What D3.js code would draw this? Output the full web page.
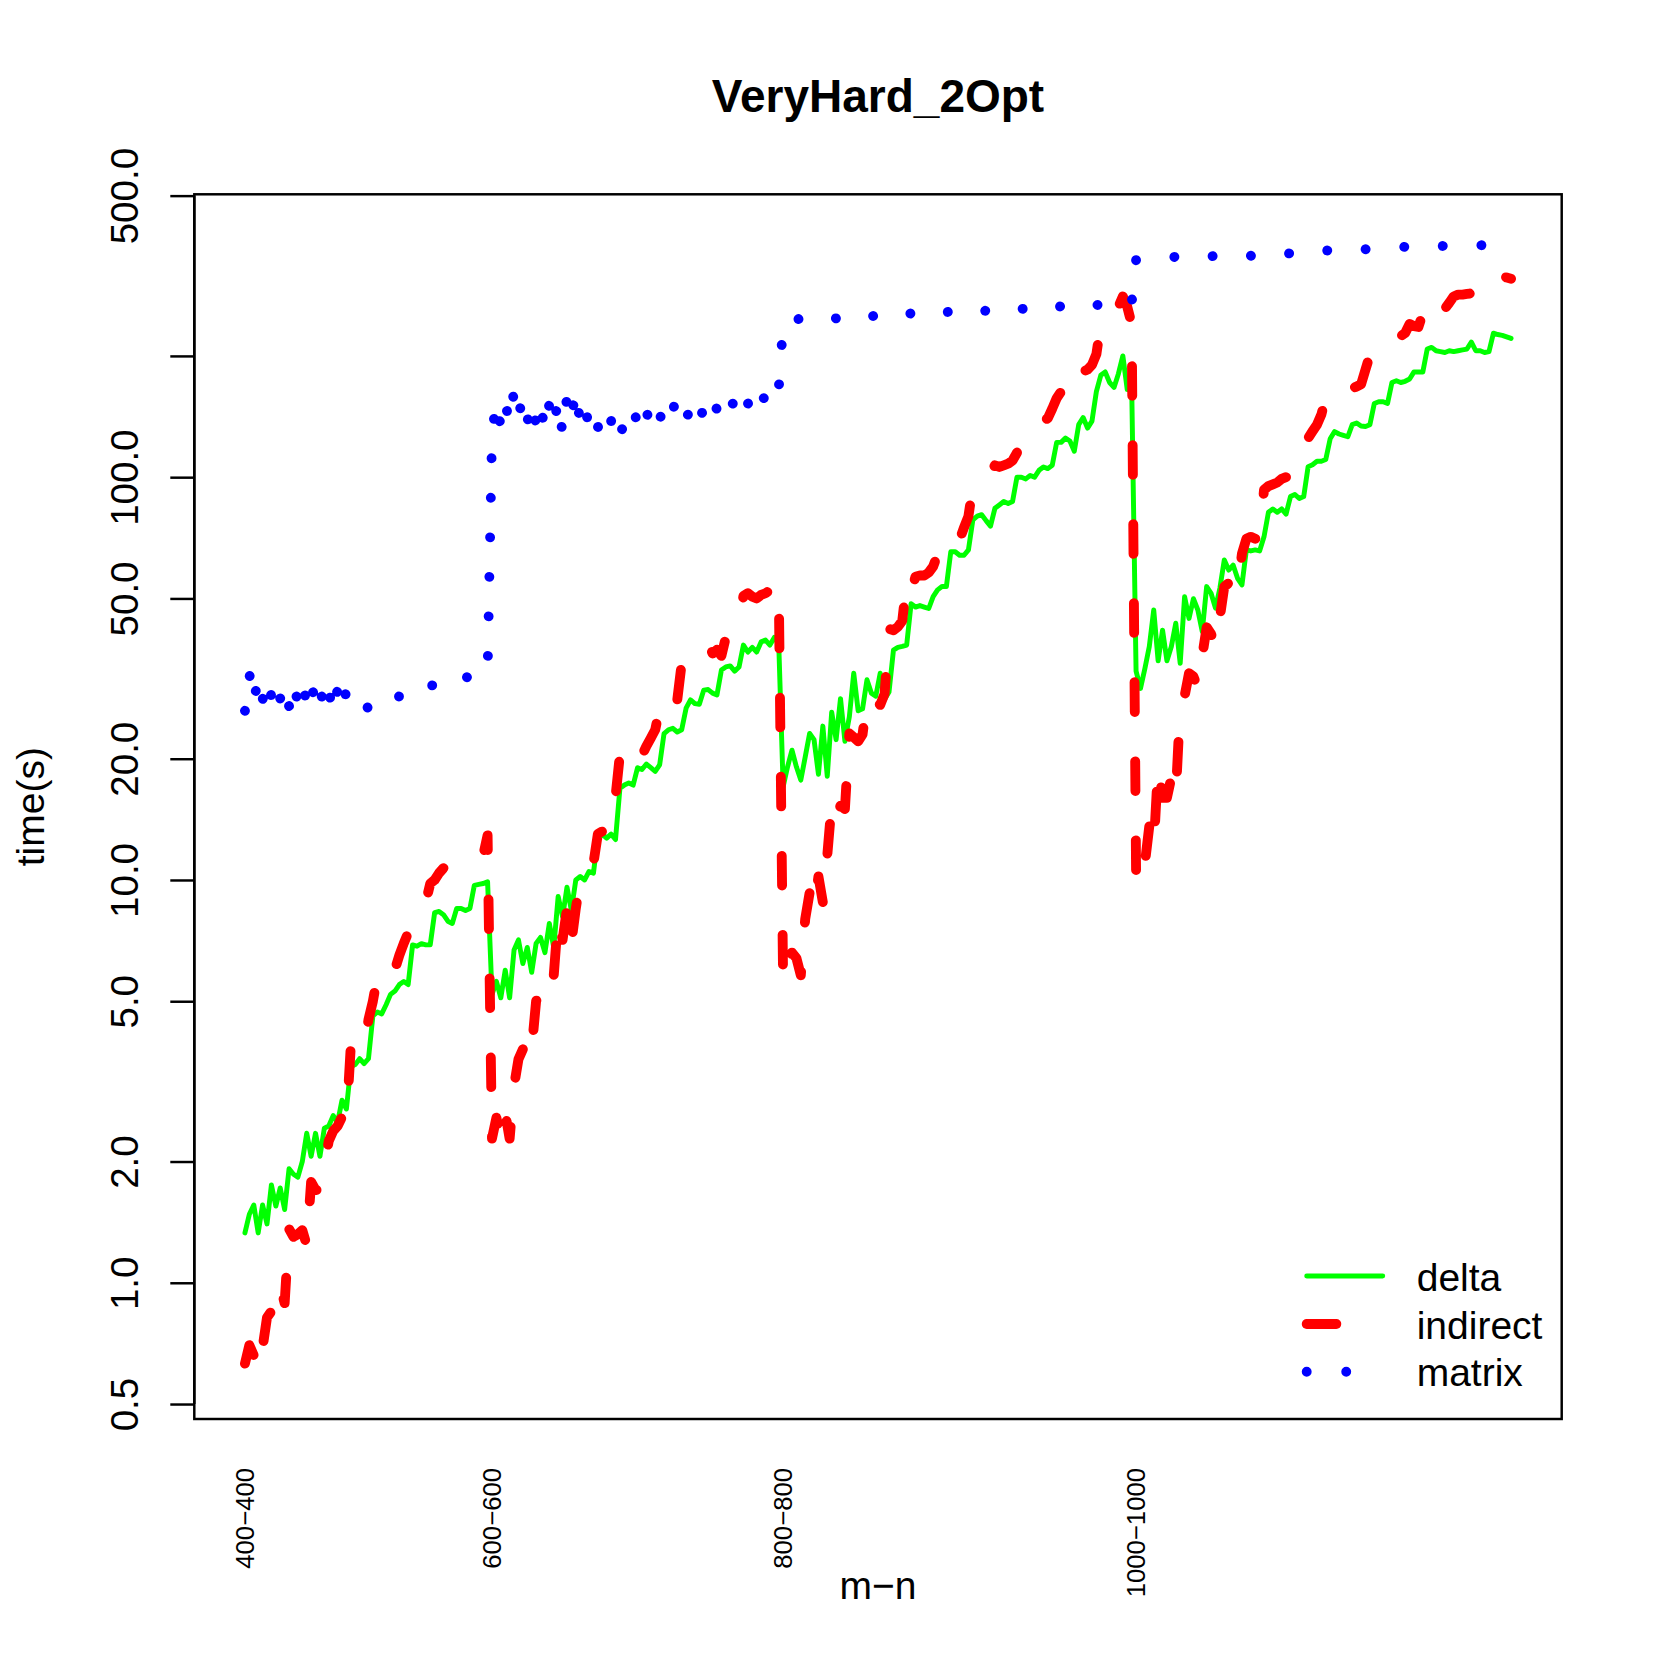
<!DOCTYPE html>
<html><head><meta charset="utf-8">
<script src="https://cdn.jsdelivr.net/npm/d3@7"></script>
<style>body{margin:0;background:#fff}svg{display:block}</style>
</head><body><svg id="c" width="1661" height="1661"></svg>
<script>
// ---- data ----
const title = "VeryHard_2Opt";
const xAxisTitle = "m\u2212n";
const yAxisTitle = "time(s)";
const xLabels = ["400\u2212400", "600\u2212600", "800\u2212800", "1000\u22121000"];
const xLabelIndex = [1, 57, 123, 203];
const yTicks = [500, 200, 100, 50, 20, 10, 5, 2, 1, 0.5];
const yTickLabels = ["500.0", "", "100.0", "50.0", "20.0", "10.0", "5.0", "2.0", "1.0", "0.5"];
const seriesNames = ["delta", "indirect", "matrix"];

const delta = [
 1.33,1.48,1.56,1.33,1.56,1.40,1.75,1.55,1.72,1.52,
 1.92,1.86,1.83,2.0,2.35,2.06,2.35,2.06,2.42,2.45,
 2.6,2.5,2.84,2.7,3.44,3.48,3.6,3.5,3.6,4.6,
 4.7,4.65,4.9,5.2,5.3,5.5,5.6,5.5,6.9,6.85,
 6.95,6.9,6.9,8.3,8.35,8.2,7.9,7.8,8.5,8.5,
 8.4,8.5,9.7,9.75,9.8,9.9,
 5.2,5.6,5.1,5.97,5.1,6.7,7.1,6.2,6.8,5.9,
 6.96,7.2,6.6,7.8,6.8,9.1,8.1,9.6,8.4,10.0,
 10.2,10.0,10.5,10.4,12.8,13.0,12.7,13.0,12.6,16.9,
 17.2,17.4,17.2,19.0,18.8,19.4,19.0,18.6,19.3,23.1,
 23.6,23.8,23.3,23.6,26.7,28.0,27.4,27.3,29.6,29.7,
 29.1,28.8,33.2,33.8,34.0,33.0,33.8,38.3,36.8,37.8,
 36.8,39.0,39.4,38.3,40.0,38.6,
 17.05,19.1,21,19.1,17.7,20.2,23.1,22.3,18.3,24.1,
 18.1,26.1,22.3,28.2,22.1,25.4,32.6,26.3,26.6,31.4,
 29.1,28.6,32.6,28.1,29.3,37.2,37.8,38.0,38.3,48.5,
 47.6,48,47.6,47.2,50.5,52.5,53.5,53.5,65.3,65.3,
 64,64,66,78.3,80,80.7,78,75.6,83.7,85.3,
 87,86,87,100,100,99,101,100,104,106,
 105,107,122,122,125,123,116,135,140.6,132.4,
 137.8,163,179,182.5,171.8,167,180.7,200,165,170,
 33,29.9,33.5,38,46.8,35,41.7,35,38,43.4,
 34.5,50.5,44.6,49.9,46.8,41.4,53.5,51.5,47.3,53,
 62.3,58.8,60.5,56.1,54,66,65.6,66,65.6,71.1,
 81.8,83.4,81.8,83.4,81,89.5,90.6,88.5,89.5,106.2,
 107.4,109.5,109.5,110.6,124.6,129.8,128,127,126,135,
 136.3,134,133.6,135,152.4,153.9,153.9,152.4,171.8,173.5,
 171.8,173,175.3,182.5,182.5,182.5,208,210,206,205,
 204,206,205,206,207,208,216.5,206,206,204,
 205,227.7,226,225,223,221
];

const indirect = [
 0.63,0.70,0.66,0.60,0.69,0.82,0.85,1.0,0.98,0.89,
 1.36,1.30,1.32,1.35,1.24,1.78,1.70,1.70,1.95,2.25,
 2.38,2.45,2.58,2.51,3.88,3.83,3.80,3.76,4.5,5.0,
 5.75,5.86,5.97,5.75,6.0,6.5,6.96,7.4,7.6,8.0,
 8.4,8.8,9.8,10.0,10.4,10.7,10.9,10.9,11.0,10.9,
 11.1,11.2,11.3,11.5,11.5,12.9,
 2.28,2.57,2.28,2.64,2.28,3.08,3.59,3.8,3.5,3.8,
 5.0,5.3,5.0,5.3,5.8,8.1,7.1,8.5,7.0,8.5,
 10.0,10.5,10.8,11.0,13.0,13.2,13.0,14.5,16.1,20.5,
 21.2,20.6,21.6,21.0,20.4,21.5,22.5,23.6,26.7,28.5,
 27.5,27.0,28.0,34.5,34.8,35.5,36.0,37.0,37.5,38.6,
 36.5,37.3,36.0,40.0,41.0,42.0,44.2,50.7,51.5,50.5,
 50.0,51.0,51.5,52.4,54.6,53.5,
 5.54,6.2,6.6,6.4,5.8,8.0,9.3,8.4,10.2,8.8,
 11.5,15.5,14.2,15.3,15.0,23.1,22.6,22.1,23.0,28.0,
 29.0,28.0,27.2,29.0,42,41.7,42.5,44,55,52,
 56.6,57,57,58,60,64.3,66,64,64.3,66,
 70,75,80,95,97,98,100,103,107,106,
 107,108,110,115,125,128,127,130,135,138,
 140,148,157,163,160,155,168,180,183,185,
 190,202,240,245,250,255,265,281,265,240,
 10.5,9.6,11.0,13.6,12.0,19.3,16.0,16.0,18.0,16.2,
 27,28.6,32.6,32,30,36,42.4,40.8,37.8,45,
 53.5,54.6,51.6,52.4,64.6,70.3,71.1,70.3,70.3,93,
 95,96,97,99,100,104,107.7,108,122,125,
 130,135,143,158,162,158,160,162,165,166,
 168,170,185,201,203,205,210,218,225,227,
 224,228,240,237,236,255,240,256,258,265,
 262,271,281,284,284,285,286,287,288,289,
 291,319,319,316,313,311
];

const matrix = [
 26.3,32.5,27.5,32.0,28.0,31.8,28.5,31.5,28.2,30.8,
 27.0,31.0,27.5,30.8,27.5,31.0,27.2,30.0,26.5,29.5,
 25.8,29.8,26.5,29.5,27.0,27.3,26.8,27.2,26.7,27.3,
 26.9,27.6,27.4,28.1,27.9,28.6,28.4,29.1,28.9,29.6,
 29.6,30.3,30.1,30.8,30.6,31.2,31.0,31.5,31.3,31.9,
 31.7,32.2,32.0,32.5,32.3,32.7,
 128,155,133,153,136,164,142,158,137,155,
 135,152,130,152,134,156,128,158,140,165,
 136,150,134,145,133,142,130,138,124,135,
 128,140,134,146,134,145,136,148,139,150,
 141,152,142,150,139,149,140,150,141,150,
 140,149,142,152,146,157,149,160,152,161,
 152,162,154,163,156,166,
 240,247.2,244.9,247.8,246.0,248.1,246.6,249.2,246.8,249.0,
 247.9,250.3,247.8,250.4,249.0,251.5,249.1,251.6,250.2,252.6,
 250.3,252.8,251.4,253.9,251.5,254.0,252.6,255.1,252.7,255.2,
 253.8,256.3,253.9,256.4,255.0,257.4,255.1,257.6,256.2,258.7,
 256.3,258.8,257.4,259.9,257.5,260.0,258.6,261.1,258.7,261.2,
 259.8,262.3,259.9,262.4,261.0,263.5,261.1,263.6,262.2,264.7,
 262.3,264.8,263.4,265.9,263.5,266.0,264.6,267.1,264.7,267.2,
 265.8,268.3,265.9,268.4,267.0,269.5,267.1,269.6,268.2,270.5,
 346,348,347,350,348.5,351,349.5,352,350.5,353,
 351,353.5,351.5,354,352,354.5,352,354.5,352.5,355,
 353,355.5,353.5,356,354,356.5,354.5,357,355,357.5,
 355.5,358,356,359,357,360.5,359,362,360.5,363.5,
 362,365,363,366,364,367,365,368,366,368.5,
 367,369.5,368,370.5,369,371,369.5,372,370.5,373,
 371.5,373.5,372,374.5,372.5,375,373,375.5,373.5,376,
 374,376.5,374.5,377,375,377,375.5,377.5,376,378,
 376.5,378.5,377,379,377.5,379
];

// ---- layout ----
const W = 1661, H = 1661;
const L = 194.3, R = 1561.7, T = 194.3, B = 1419;
const unit = 2.47;               // R lwd=1 in px
const FONT = "'Liberation Sans', Arial, Helvetica, sans-serif";
const N = delta.length;

const svg = d3.select("#c");
svg.append("rect").attr("width", W).attr("height", H).attr("fill", "#fff");

const pad = 0.04 * (N - 1);
const x = d3.scaleLinear().domain([1 - pad, N + pad]).range([L, R]);
const y = d3.scaleLog().domain([0.459, 503.8]).range([B, T]);

const idx = d3.range(1, N + 1);
const line = d3.line().x(d => x(d[0])).y(d => y(d[1]));

const dashRed = `${3 * 4 * unit} ${5 * 4 * unit}`;
const dashBlue = `0.01 ${4 * 4 * unit - 0.01}`;

const plot = svg.append("g");
plot.append("path")
  .attr("d", line(idx.map((i, k) => [i, delta[k]])))
  .attr("fill", "none").attr("stroke", "#00ff00")
  .attr("stroke-width", 2 * unit).attr("stroke-linejoin", "round").attr("stroke-linecap", "round");
plot.append("path")
  .attr("d", line(idx.map((i, k) => [i, indirect[k]])))
  .attr("fill", "none").attr("stroke", "#ff0000")
  .attr("stroke-width", 4 * unit).attr("stroke-linejoin", "round").attr("stroke-linecap", "round")
  .attr("stroke-dasharray", dashRed);
plot.append("path")
  .attr("d", line(idx.map((i, k) => [i, matrix[k]])))
  .attr("fill", "none").attr("stroke", "#0000ff")
  .attr("stroke-width", 4 * unit).attr("stroke-linejoin", "round").attr("stroke-linecap", "round")
  .attr("stroke-dasharray", dashBlue);

// box
svg.append("rect").attr("x", L).attr("y", T).attr("width", R - L).attr("height", B - T)
  .attr("fill", "none").attr("stroke", "#000").attr("stroke-width", unit);

// y axis
const yAxis = d3.axisLeft(y).tickValues(yTicks).tickSize(24)
  .tickFormat((d, i) => yTickLabels[i]);
const gy = svg.append("g").attr("transform", `translate(${L},0)`).call(yAxis);
gy.select(".domain").attr("d", `M0,${y(0.5)}V${y(500)}`).attr("stroke-width", unit);
gy.selectAll(".tick line").attr("stroke-width", unit);
gy.selectAll(".tick text")
  .attr("font-family", FONT).attr("font-size", 38.5).attr("fill", "#000")
  .attr("text-anchor", "middle")
  .attr("x", null).attr("dy", null)
  .attr("transform", `translate(${138 - L},0) rotate(-90)`)
  .attr("y", 0);

// x labels (no ticks)
svg.append("g").selectAll("text").data(xLabels).join("text")
  .attr("transform", (d, i) => `translate(${x(xLabelIndex[i])},1468) rotate(-90)`)
  .attr("text-anchor", "end").attr("dy", "0.36em")
  .attr("font-family", FONT).attr("font-size", 25.7).attr("fill", "#000")
  .text(d => d);

// titles
svg.append("text").attr("x", (L + R) / 2).attr("y", 112).attr("text-anchor", "middle")
  .attr("font-family", FONT).attr("font-weight", "bold").attr("font-size", 46).text(title);
svg.append("text").attr("x", (L + R) / 2).attr("y", 1599).attr("text-anchor", "middle")
  .attr("font-family", FONT).attr("font-size", 39).text(xAxisTitle);
svg.append("text").attr("transform", `translate(44,${(T + B) / 2}) rotate(-90)`)
  .attr("text-anchor", "middle").attr("font-family", FONT).attr("font-size", 39).text(yAxisTitle);

// legend
const legColors = ["#00ff00", "#ff0000", "#0000ff"];
const legWidths = [2 * unit, 4 * unit, 4 * unit];
const legDash = [null, dashRed, dashBlue];
const legY = [1276, 1324, 1371.7];
const lg = svg.append("g");
seriesNames.forEach((name, i) => {
  lg.append("line").attr("x1", 1306.7).attr("x2", 1382.7).attr("y1", legY[i]).attr("y2", legY[i])
    .attr("stroke", legColors[i]).attr("stroke-width", legWidths[i])
    .attr("stroke-linecap", "round").attr("stroke-dasharray", legDash[i]);
  lg.append("text").attr("x", 1416.7).attr("y", legY[i] + 14.5)
    .attr("font-family", FONT).attr("font-size", 39).text(name);
});
</script>
</body></html>
